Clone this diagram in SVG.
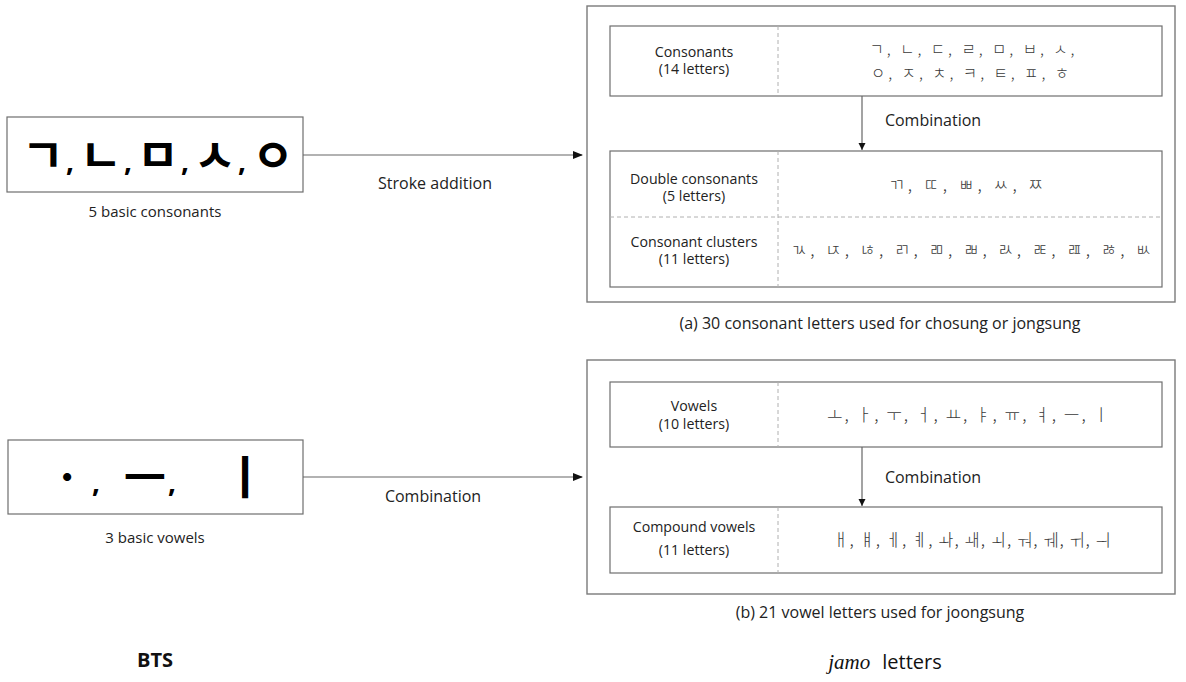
<svg xmlns="http://www.w3.org/2000/svg" width="1186" height="682" viewBox="0 0 1186 682">
<style>
.box{fill:#fff;stroke:#6e6e6e;stroke-width:1.2}
.outer{fill:none;stroke:#7a7a7a;stroke-width:1.4}
.dash{stroke:#b0b0b0;stroke-width:1;stroke-dasharray:4,3}
.lbl{font-family:"Open Sans","Noto Sans",sans-serif;font-size:15px;fill:#222;text-anchor:middle}
.in{font-size:14.2px}
.arr{font-family:"Open Sans","Noto Sans",sans-serif;font-size:16px;fill:#222;text-anchor:middle}
.cap{font-family:"Open Sans","Noto Sans",sans-serif;font-size:16px;fill:#222;text-anchor:middle}
.kr{font-family:"Noto Sans CJK KR",sans-serif;font-size:17px;font-weight:300;fill:#3a3a3a;text-anchor:middle}
.kr2{font-size:15.5px}
.big{font-family:"Noto Sans CJK KR",sans-serif;font-size:46px;font-weight:600;fill:#000;text-anchor:middle}
.cm{font-family:"Open Sans","Noto Sans",sans-serif;font-size:28px;font-weight:700;fill:#000}
.con{stroke:#666;stroke-width:1.2;fill:none}
</style>
<defs>
<marker id="ah" markerWidth="10" markerHeight="8" refX="9" refY="4" orient="auto" markerUnits="userSpaceOnUse">
<path d="M0,0 L10,4 L0,8 Z" fill="#111"/>
</marker>
<marker id="ahs" markerWidth="8" markerHeight="8" refX="7" refY="3.5" orient="auto" markerUnits="userSpaceOnUse">
<path d="M0,0 L7,3.5 L0,7 Z" fill="#111"/>
</marker>
</defs>

<g id="bts-consonants">
<rect class="box" x="7" y="117" width="296" height="75"/>
<text class="big" x="43" y="172">ㄱ</text>
<text class="cm" x="66" y="171">,</text>
<text class="big" x="101" y="172">ㄴ</text>
<text class="cm" x="124" y="171">,</text>
<text class="big" x="158" y="172">ㅁ</text>
<text class="cm" x="181" y="171">,</text>
<text class="big" x="215" y="172">ㅅ</text>
<text class="cm" x="238" y="171">,</text>
<text class="big" x="273" y="172">ㅇ</text>
<text class="lbl" x="155" y="217">5 basic consonants</text>
</g>

<g id="bts-vowels">
<rect class="box" x="8" y="440" width="295" height="74"/>
<text class="big" x="67" y="494" font-size="40">ㆍ</text>
<text class="cm" x="92" y="492">,</text>
<text class="big" x="145" y="494" font-size="40">ㅡ</text>
<text class="cm" x="168" y="492">,</text>
<text class="big" x="245" y="494" font-size="40">ㅣ</text>
<text class="lbl" x="155" y="543">3 basic vowels</text>
</g>

<g id="consonant-panel">
<rect class="outer" x="587" y="6" width="588" height="296"/>
<text class="cap" x="880" y="329">(a) 30 consonant letters used for chosung or jongsung</text>
</g>

<g id="consonants">
<rect class="box" x="610" y="26" width="552" height="70"/>
<line class="dash" x1="778" y1="26" x2="778" y2="96"/>
<text class="lbl in" x="694" y="57">Consonants<tspan x="694" dy="17.2">(14 letters)</tspan></text>
<text class="kr kr2" x="972" y="55" textLength="205" lengthAdjust="spacing">ㄱ, ㄴ, ㄷ, ㄹ, ㅁ, ㅂ, ㅅ,</text>
<text class="kr kr2" x="970" y="78.5" textLength="198" lengthAdjust="spacing">ㅇ, ㅈ, ㅊ, ㅋ, ㅌ, ㅍ, ㅎ</text>
</g>

<g id="double-clusters">
<rect class="box" x="610" y="151" width="552" height="136"/>
<line class="dash" x1="778" y1="151" x2="778" y2="287"/>
<line class="dash" x1="610" y1="217" x2="1162" y2="217"/>
<text class="lbl in" x="694" y="184">Double consonants<tspan x="694" dy="17.2">(5 letters)</tspan></text>
<text class="kr" x="966" y="191" textLength="155" lengthAdjust="spacing">ㄲ, ㄸ, ㅃ, ㅆ, ㅉ</text>
<text class="lbl in" x="694" y="247">Consonant clusters<tspan x="694" dy="17.2">(11 letters)</tspan></text>
<text class="kr" x="971" y="256" textLength="360" lengthAdjust="spacing">ㄳ, ㄵ, ㄶ, ㄺ, ㄻ, ㄼ, ㄽ, ㄾ, ㄿ, ㅀ, ㅄ</text>
</g>

<g id="vowel-panel">
<rect class="outer" x="587" y="360" width="588" height="234"/>
<text class="cap" x="880" y="618">(b) 21 vowel letters used for joongsung</text>
</g>

<g id="vowels">
<rect class="box" x="610" y="382" width="552" height="65"/>
<line class="dash" x1="778" y1="382" x2="778" y2="447"/>
<text class="lbl in" x="694" y="411">Vowels<tspan x="694" dy="17.5">(10 letters)</tspan></text>
<text class="kr" x="968" y="421" textLength="282" lengthAdjust="spacing">ㅗ, ㅏ, ㅜ, ㅓ, ㅛ, ㅑ, ㅠ, ㅕ, ㅡ, ㅣ</text>
</g>

<g id="compound-vowels">
<rect class="box" x="610" y="507" width="552" height="66"/>
<line class="dash" x1="778" y1="507" x2="778" y2="573"/>
<text class="lbl in" x="694" y="532">Compound vowels<tspan x="694" dy="23">(11 letters)</tspan></text>
<text class="kr" x="972" y="546" textLength="278" lengthAdjust="spacing">ㅐ, ㅒ, ㅔ, ㅖ, ㅘ, ㅙ, ㅚ, ㅝ, ㅞ, ㅟ, ㅢ</text>
</g>

<g id="connectors">
<line class="con" x1="303" y1="155" x2="582" y2="155" marker-end="url(#ah)"/>
<text class="arr" x="435" y="189">Stroke addition</text>
<line class="con" x1="303" y1="477" x2="582" y2="477" marker-end="url(#ah)"/>
<text class="arr" x="433" y="502">Combination</text>
<line class="con" x1="862" y1="96" x2="862" y2="150" marker-end="url(#ahs)"/>
<text class="arr" x="933" y="126">Combination</text>
<line class="con" x1="862" y1="447" x2="862" y2="506" marker-end="url(#ahs)"/>
<text class="arr" x="933" y="483">Combination</text>
</g>

<g id="titles">
<text x="155" y="667" font-family="'Open Sans','Noto Sans',sans-serif" font-size="20" font-weight="700" fill="#111" text-anchor="middle">BTS</text>
<text x="885" y="669" fill="#111" text-anchor="middle"><tspan font-family="'Liberation Serif',serif" font-style="italic" font-size="21">jamo</tspan><tspan font-family="'Open Sans','Noto Sans',sans-serif" font-size="20" dx="12">letters</tspan></text>
</g>
</svg>
